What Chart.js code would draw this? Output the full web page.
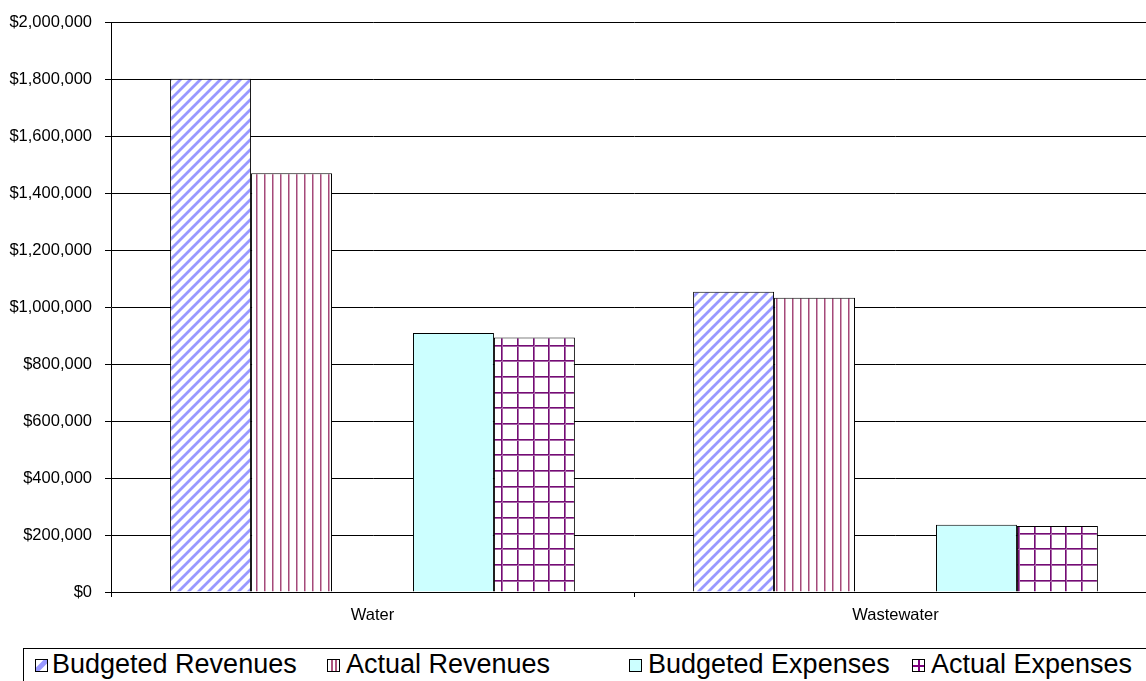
<!DOCTYPE html>
<html lang="en">
<head>
<meta charset="UTF-8">
<title>Water and Wastewater Revenues and Expenses</title>
<script src="https://cdn.jsdelivr.net/npm/chart.js"></script>
<style>
    body { margin: 0; background: #fff; }
    .frame {
        position: relative;
        width: 1146px;
        height: 681px;
        overflow: hidden;
        font-family: "Liberation Sans", Arial, sans-serif;
    }
    #budgetChart { position: absolute; left: 0; top: 0; }
    .legend-box {
        position: absolute;
        left: 23px;
        top: 648px;
        width: 1200px;
        height: 80px;
        border: 1px solid #000;
        box-sizing: border-box;
    }
    .swatch { position: absolute; top: 659px; }
    .legend-text {
        position: absolute;
        top: 651px;
        font-size: 27px;
        line-height: 27px;
        white-space: nowrap;
        color: #000;
    }
</style>
</head>
<body>
<div class="frame">
    <canvas id="budgetChart" width="1160" height="640"></canvas>
    <div class="legend-box"></div>
    <canvas class="swatch" id="sw0" width="13" height="13" style="left:35px"></canvas>
    <span class="legend-text" style="left:52px">Budgeted Revenues</span>
    <canvas class="swatch" id="sw1" width="13" height="13" style="left:327px"></canvas>
    <span class="legend-text" style="left:346px">Actual Revenues</span>
    <canvas class="swatch" id="sw2" width="13" height="13" style="left:629px"></canvas>
    <span class="legend-text" style="left:648px">Budgeted Expenses</span>
    <canvas class="swatch" id="sw3" width="13" height="13" style="left:912px"></canvas>
    <span class="legend-text" style="left:931px">Actual Expenses</span>
</div>

<script>
    const categories = ['Water', 'Wastewater'];
    const budgetedRevenues = [1804000, 1055000];
    const actualRevenues = [1472000, 1034000];
    const budgetedExpenses = [910000, 236000];
    const actualExpenses = [894000, 232000];
    const yTickValues = [0, 200000, 400000, 600000, 800000, 1000000,
                         1200000, 1400000, 1600000, 1800000, 2000000];

    const FONT = '"Liberation Sans", Arial, sans-serif';
    Chart.defaults.font.family = FONT;
    Chart.defaults.color = '#000';

    function tile(size, draw) {
        const c = document.createElement('canvas');
        c.width = size;
        c.height = size;
        const g = c.getContext('2d');
        g.fillStyle = '#fff';
        g.fillRect(0, 0, size, size);
        draw(g, size);
        return g.createPattern(c, 'repeat');
    }

    // blue "/" hatching
    const diagonal = tile(10, function(g, s) {
        g.strokeStyle = '#9999ff';
        g.lineWidth = 2.8;
        g.beginPath();
        g.moveTo(-4, s + 4); g.lineTo(s + 4, -4);
        g.moveTo(-4, 4); g.lineTo(4, -4);
        g.moveTo(s - 4, s + 4); g.lineTo(s + 4, s - 4);
        g.stroke();
    });

    // maroon vertical stripes
    const vertical = tile(8, function(g) {
        g.fillStyle = '#a34a7a';
        g.fillRect(0, 0, 1, 8);
        g.fillStyle = '#d3a2bb';
        g.fillRect(1, 0, 1, 8);
    });

    // purple grid, ~15.7px cells
    const grid = tile(47, function(g) {
        [0, 16, 31].forEach(function(p) {
            g.fillStyle = '#740c74';
            g.fillRect(p, 0, 1, 47);
            g.fillRect(0, p, 47, 1);
            g.fillStyle = '#a865a8';
            g.fillRect(p + 1, 0, 1, 47);
            g.fillRect(0, p + 1, 47, 1);
        });
    });

    const ctx = document.getElementById('budgetChart').getContext('2d');
    const budgetChart = new Chart(ctx, {
        type: 'bar',
        data: {
            labels: categories,
            datasets: [
                { label: 'Budgeted Revenues', data: budgetedRevenues, backgroundColor: diagonal },
                { label: 'Actual Revenues', data: actualRevenues, backgroundColor: vertical },
                { label: '', data: [null, null], backgroundColor: '#fff' },
                { label: 'Budgeted Expenses', data: budgetedExpenses, backgroundColor: '#ccffff' },
                { label: 'Actual Expenses', data: actualExpenses, backgroundColor: grid }
            ].map(function(d) {
                return Object.assign(d, {
                    borderColor: '#000',
                    borderWidth: 1,
                    categoryPercentage: 0.774,
                    barPercentage: 1.0
                });
            })
        },
        options: {
            responsive: false,
            animation: false,
            layout: { padding: { top: 21, right: 3, left: 0, bottom: 0 } },
            plugins: {
                legend: { display: false },
                tooltip: { enabled: false }
            },
            scales: {
                x: {
                    offset: true,
                    grid: {
                        offset: true,
                        drawOnChartArea: false,
                        tickLength: 5,
                        color: '#000'
                    },
                    border: { color: '#000' },
                    ticks: { font: { size: 16.5 }, padding: 9 },
                    afterFit: function(s) { s.height = 48; }
                },
                y: {
                    min: 0,
                    max: 2000000,
                    afterBuildTicks: function(s) {
                        s.ticks = yTickValues.map(function(v) { return { value: v }; });
                    },
                    grid: { color: '#000', tickLength: 6 },
                    border: { color: '#000' },
                    ticks: {
                        font: { size: 16.5 },
                        padding: 13,
                        callback: function(v) { return '$' + v.toLocaleString('en-US'); }
                    },
                    afterFit: function(s) { s.width = 111; }
                }
            }
        }
    });

    // legend swatches
    function swatch(id, draw) {
        const g = document.getElementById(id).getContext('2d');
        g.fillStyle = '#fff';
        g.fillRect(0, 0, 13, 13);
        draw(g);
        g.strokeStyle = '#000';
        g.lineWidth = 1;
        g.strokeRect(0.5, 0.5, 12, 12);
    }
    swatch('sw0', function(g) {
        g.strokeStyle = '#9999ff';
        g.lineWidth = 5;
        g.beginPath();
        g.moveTo(0, 13); g.lineTo(13, 0);
        g.stroke();
    });
    swatch('sw1', function(g) {
        g.fillStyle = '#b0557f';
        g.fillRect(4, 0, 2, 13);
        g.fillRect(8, 0, 2, 13);
    });
    swatch('sw2', function(g) {
        g.fillStyle = '#ccffff';
        g.fillRect(0, 0, 13, 13);
    });
    swatch('sw3', function(g) {
        g.fillStyle = '#800080';
        g.fillRect(6, 0, 2, 13);
        g.fillRect(0, 6, 13, 2);
    });
</script>
</body>
</html>
